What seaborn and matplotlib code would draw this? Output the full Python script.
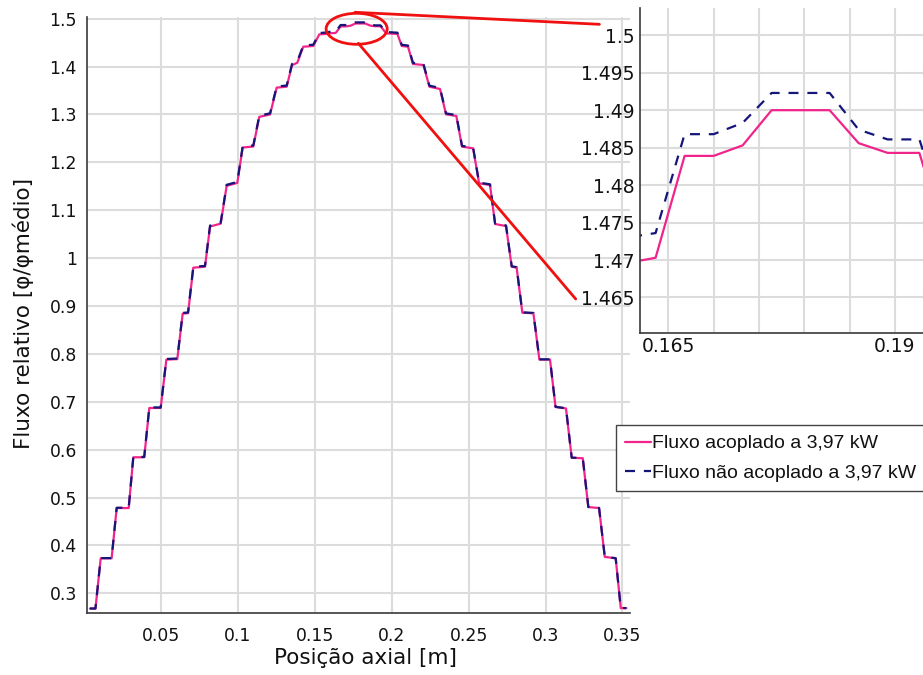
import matplotlib
matplotlib.use("Agg")
import matplotlib.pyplot as plt
import seaborn as sns
import pandas as pd
from matplotlib.patches import Ellipse
from matplotlib.lines import Line2D

# ---------------- data ----------------
axial_position = [
    0.0038, 0.0074, 0.0108, 0.0179, 0.0212, 0.0290, 0.0320, 0.0391, 0.0424, 0.0498,
    0.0535, 0.0606, 0.0641, 0.0676, 0.0710, 0.0786, 0.0819, 0.0888, 0.0927, 0.0996,
    0.1031, 0.1100, 0.1139, 0.1209, 0.1252, 0.1317, 0.1352, 0.1386, 0.1425, 0.1490,
    0.1529, 0.1571, 0.1604, 0.1636, 0.1668, 0.1700, 0.1732, 0.1764, 0.1796, 0.1828,
    0.1860, 0.1892, 0.1927, 0.1964, 0.2037, 0.2065, 0.2106, 0.2138, 0.2206, 0.2245,
    0.2314, 0.2353, 0.2420, 0.2457, 0.2529, 0.2568, 0.2639, 0.2672, 0.2743, 0.2780,
    0.2812, 0.2849, 0.2921, 0.2960, 0.3029, 0.3065, 0.3133, 0.3170, 0.3242, 0.3278,
    0.3348, 0.3385, 0.3456, 0.3489, 0.3525]

flux_coupled = [
    0.2680, 0.2680, 0.3730, 0.3730, 0.4780, 0.4780, 0.5840, 0.5840, 0.6870, 0.6870,
    0.7880, 0.7890, 0.8840, 0.8850, 0.9800, 0.9820, 1.0660, 1.0720, 1.1510, 1.1570,
    1.2310, 1.2330, 1.2950, 1.3000, 1.3560, 1.3580, 1.4030, 1.4080, 1.4415, 1.4430,
    1.4672, 1.4682, 1.4696, 1.4703, 1.4839, 1.4839, 1.4853, 1.4900, 1.4900, 1.4900,
    1.4856, 1.4843, 1.4843, 1.4695, 1.4682, 1.4430, 1.4415, 1.4054, 1.4033, 1.3580,
    1.3532, 1.3003, 1.2968, 1.2327, 1.2293, 1.1562, 1.1527, 1.0712, 1.0670, 0.9820,
    0.9800, 0.8860, 0.8847, 0.7880, 0.7880, 0.6890, 0.6860, 0.5830, 0.5820, 0.4800,
    0.4780, 0.3760, 0.3730, 0.2690, 0.2690]

flux_uncoupled = [
    0.2682, 0.2682, 0.3734, 0.3734, 0.4786, 0.4786, 0.5848, 0.5848, 0.6881, 0.6881,
    0.7893, 0.7903, 0.8855, 0.8865, 0.9817, 0.9837, 1.0679, 1.0739, 1.1531, 1.1591,
    1.2332, 1.2352, 1.2974, 1.3024, 1.3584, 1.3604, 1.4056, 1.4106, 1.4442, 1.4457,
    1.4700, 1.4712, 1.4730, 1.4736, 1.4868, 1.4868, 1.4883, 1.4923, 1.4923, 1.4923,
    1.4874, 1.4861, 1.4861, 1.4722, 1.4708, 1.4455, 1.4440, 1.4078, 1.4057, 1.3602,
    1.3553, 1.3022, 1.2987, 1.2344, 1.2310, 1.1576, 1.1541, 1.0724, 1.0682, 0.9830,
    0.9810, 0.8868, 0.8855, 0.7886, 0.7886, 0.6894, 0.6864, 0.5833, 0.5823, 0.4802,
    0.4782, 0.3762, 0.3732, 0.2691, 0.2691]

series_labels = ["Fluxo acoplado a 3,97 kW", "Fluxo não acoplado a 3,97 kW"]

main_xticks = [0.05, 0.10, 0.15, 0.20, 0.25, 0.30, 0.35]
main_yticks = [0.3, 0.4, 0.5, 0.6, 0.7, 0.8, 0.9, 1.0, 1.1, 1.2, 1.3, 1.4, 1.5]
inset_xticks = [0.165, 0.170, 0.175, 0.180, 0.185, 0.190]
inset_xticklabels = ["0.165", "", "", "", "", "0.19"]
inset_yticks = [1.465, 1.470, 1.475, 1.480, 1.485, 1.490, 1.495, 1.500]

PINK = "#f0248a"
NAVY = "#15157a"
RED = "#f01010"
GRID = "#dcdcdc"
SPINE = "#3a3a3a"

# ---------------- style ----------------
sns.set_style("whitegrid")
plt.rcParams["font.family"] = ["DejaVu Sans"]

W, H = 923, 675
fig = plt.figure(figsize=(W / 100, H / 100), dpi=100)

def fig_rect(left, top, right, bottom):
    return [left / W, 1 - bottom / H, (right - left) / W, (bottom - top) / H]

df = pd.DataFrame({"x": axial_position, "coupled": flux_coupled,
                   "uncoupled": flux_uncoupled})

dash = (0, (4.5, 4.0))

# ---------------- main axes ----------------
ax = fig.add_axes(fig_rect(86.7, 16.5, 630, 612.7))
sns.lineplot(data=df, x="x", y="coupled", ax=ax, color=PINK, lw=1.6,
             estimator=None, sort=False, legend=False)
sns.lineplot(data=df, x="x", y="uncoupled", ax=ax, color=NAVY, lw=1.6,
             linestyle=dash, estimator=None, sort=False, legend=False)

ax.set_xlim(0.0017, 0.3549)
ax.set_ylim(0.2594, 1.5046)
ax.set_xticks(main_xticks)
ax.set_xticklabels([f"{v:g}" for v in main_xticks])
ax.set_yticks(main_yticks)
ax.set_yticklabels([f"{v:g}" for v in main_yticks])
ax.grid(True, color=GRID, lw=1.5)
for s in ["top", "right"]:
    ax.spines[s].set_visible(False)
for s in ["left", "bottom"]:
    ax.spines[s].set_color(SPINE)
    ax.spines[s].set_linewidth(1.2)
ax.tick_params(axis="y", direction="out", length=5, width=1, color=SPINE,
               pad=2, labelsize=12.4, labelcolor="#111111")
ax.tick_params(axis="x", length=0, pad=10, labelsize=12.4, labelcolor="#111111")
ax.set_xlabel("Posição axial [m]", fontsize=15.5, color="#111111")
ax.set_ylabel("Fluxo relativo [φ/φmédio]", fontsize=15.5, color="#111111")
ax.xaxis.set_label_coords(0.514, -0.060)
ax.yaxis.set_label_coords(-0.097, 0.502)

# zoom annotation (ellipse + connector lines)
ell = Ellipse((0.1772, 1.4789), width=0.0397, height=0.0647, fill=False,
              edgecolor=RED, lw=2.0, clip_on=False, zorder=5)
ax.add_patch(ell)
ax.add_line(Line2D([0.1761, 0.3350], [1.5134, 1.4883], color=RED, lw=2.0,
                   clip_on=False, zorder=5))
ax.add_line(Line2D([0.1783, 0.3196], [1.4486, 0.9146], color=RED, lw=2.0,
                   clip_on=False, zorder=5))

# ---------------- inset axes ----------------
ins = fig.add_axes(fig_rect(640, 8.3, 923, 332.7))
ins.set_facecolor("white")
sns.lineplot(data=df, x="x", y="coupled", ax=ins, color=PINK, lw=1.6,
             estimator=None, sort=False, legend=False)
sns.lineplot(data=df, x="x", y="uncoupled", ax=ins, color=NAVY, lw=1.6,
             linestyle=dash, estimator=None, sort=False, legend=False)
ins.set_xlim(0.16188, 0.1931)
ins.set_ylim(1.4603, 1.5036)
ins.set_xticks(inset_xticks)
ins.set_xticklabels(inset_xticklabels)
ins.set_yticks(inset_yticks)
ins.set_yticklabels([f"{v:g}" for v in inset_yticks])
ins.grid(True, color=GRID, lw=1.5)
for s in ["top", "right"]:
    ins.spines[s].set_visible(False)
for s in ["left", "bottom"]:
    ins.spines[s].set_color(SPINE)
    ins.spines[s].set_linewidth(1.2)
ins.tick_params(axis="both", length=0, labelsize=13.5, labelcolor="#111111")
ins.tick_params(axis="y", pad=4)
ins.tick_params(axis="x", pad=3)
ins.set_xlabel("")
ins.set_ylabel("")

# ---------------- legend ----------------
handles = [Line2D([], [], color=PINK, lw=1.6),
           Line2D([], [], color=NAVY, lw=1.6, linestyle=dash)]
leg = fig.legend(handles, series_labels, loc="upper left",
                 bbox_to_anchor=(615.7 / W, 1 - 425 / H), borderaxespad=0,
                 frameon=True, fancybox=False, framealpha=1,
                 edgecolor="#444444", facecolor="white",
                 prop={"family": "Liberation Sans", "size": 14},
                 handlelength=1.3, handletextpad=0.08, borderpad=0.5,
                 labelspacing=0.6)
leg.get_frame().set_linewidth(1.0)
for t in leg.get_texts():
    t.set_color("#111111")

fig.savefig("out.png", dpi=100)
